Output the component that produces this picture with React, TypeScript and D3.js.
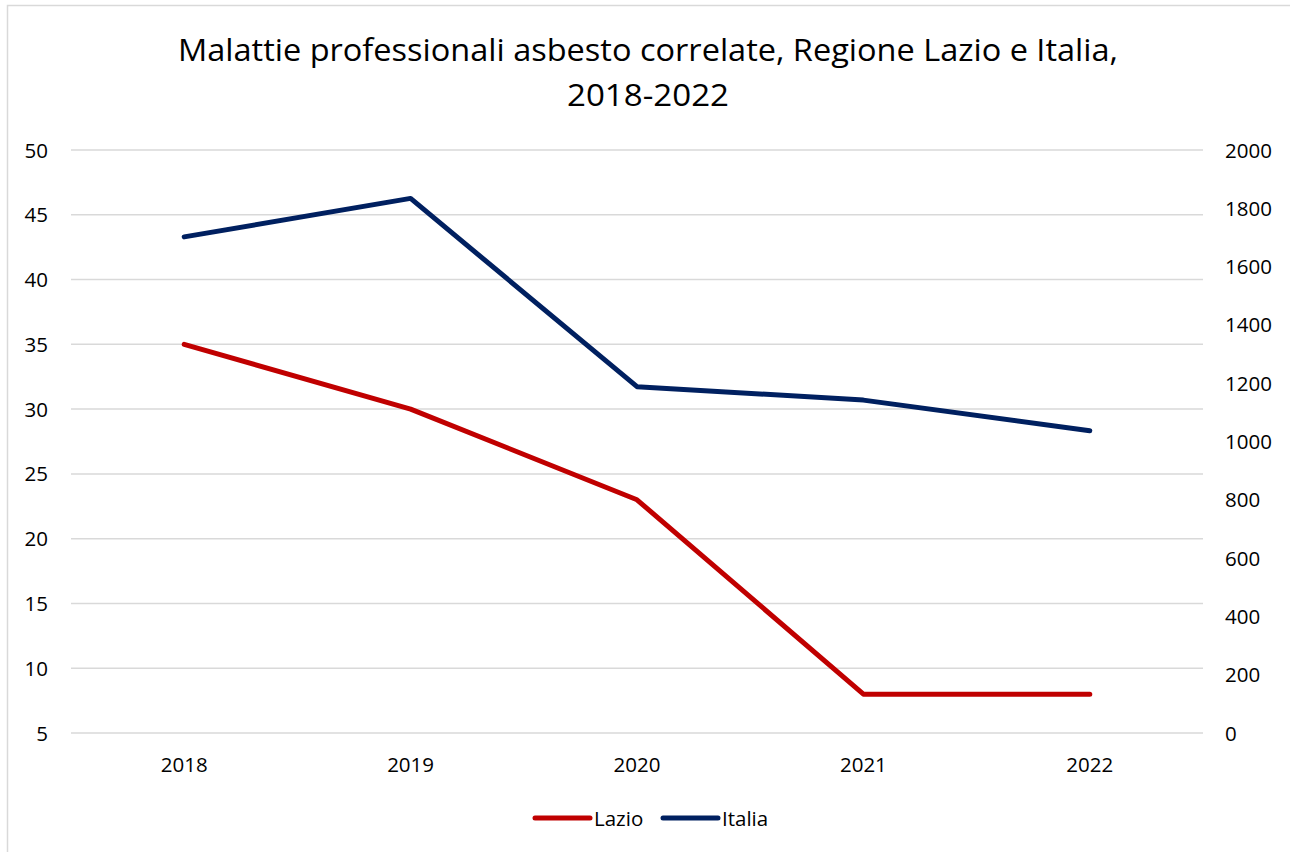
import React from "react";
import * as d3 from "d3";

const title1 = "Malattie professionali asbesto correlate, Regione Lazio e Italia,";
const title2 = "2018-2022";
const years = ["2018", "2019", "2020", "2021", "2022"];
const lazio = [35, 30, 23, 8, 8];
const italia = [1702, 1834, 1188, 1142, 1037];
const leftTicks = [5, 10, 15, 20, 25, 30, 35, 40, 45, 50];
const rightTicks = [0, 200, 400, 600, 800, 1000, 1200, 1400, 1600, 1800, 2000];

const W = 1290;
const H = 852;
const FONT = "'Open Sans', 'Noto Sans', sans-serif";

export default function App() {
  const x = d3.scaleBand<string>().domain(years).range([71, 1203]);
  const cx = (d: string) => (x(d) as number) + x.bandwidth() / 2;
  const yL = d3.scaleLinear().domain([5, 50]).range([733, 150]);
  const yR = d3.scaleLinear().domain([0, 2000]).range([733, 150]);

  const lineL = d3
    .line<number>()
    .x((_, i) => cx(years[i]))
    .y((d) => yL(d));
  const lineR = d3
    .line<number>()
    .x((_, i) => cx(years[i]))
    .y((d) => yR(d));

  const legend = [
    { name: "Lazio", color: "#C00000", x0: 535, x1: 590, tx: 594 },
    { name: "Italia", color: "#002060", x0: 663, x1: 718, tx: 722 },
  ];

  return (
    <svg
      width={W}
      height={H}
      style={{ position: "absolute", left: 0, top: 0, background: "#fff" }}
      fontFamily={FONT}
    >
      <rect x={0} y={0} width={W} height={H} fill="#fff" />
      {/* chart border */}
      <path d={`M7.5,${H + 2} V5.5 H${W + 2}`} fill="none" stroke="#D9D9D9" strokeWidth={1.5} />

      {/* title */}
      <text
        x={648}
        y={61}
        textAnchor="middle"
        fontSize={31}
        fill="#000"
        textLength={940}
        lengthAdjust="spacingAndGlyphs"
      >
        {title1}
      </text>
      <text
        x={648}
        y={106}
        textAnchor="middle"
        fontSize={31}
        fill="#000"
        textLength={162}
        lengthAdjust="spacingAndGlyphs"
      >
        {title2}
      </text>

      {/* gridlines */}
      {leftTicks.map((t) => (
        <line
          key={"g" + t}
          x1={71}
          x2={1203}
          y1={yL(t)}
          y2={yL(t)}
          stroke="#D9D9D9"
          strokeWidth={1.5}
        />
      ))}

      {/* left axis labels */}
      {leftTicks.map((t) => (
        <text
          key={"l" + t}
          x={48}
          y={yL(t) + 7.5}
          textAnchor="end"
          fontSize={20.5}
          fill="#000"
        >
          {t}
        </text>
      ))}

      {/* right axis labels */}
      {rightTicks.map((t) => (
        <text
          key={"r" + t}
          x={1225}
          y={yR(t) + 7.5}
          textAnchor="start"
          fontSize={20.5}
          fill="#000"
        >
          {t}
        </text>
      ))}

      {/* x labels */}
      {years.map((yv) => (
        <text key={"x" + yv} x={cx(yv)} y={772} textAnchor="middle" fontSize={20.5} fill="#000">
          {yv}
        </text>
      ))}

      {/* lines */}
      <path
        d={lineL(lazio) || ""}
        fill="none"
        stroke="#C00000"
        strokeWidth={5}
        strokeLinecap="round"
        strokeLinejoin="round"
      />
      <path
        d={lineR(italia) || ""}
        fill="none"
        stroke="#002060"
        strokeWidth={5}
        strokeLinecap="round"
        strokeLinejoin="round"
      />

      {/* legend */}
      {legend.map((l) => (
        <g key={l.name}>
          <line
            x1={l.x0}
            x2={l.x1}
            y1={818}
            y2={818}
            stroke={l.color}
            strokeWidth={5}
            strokeLinecap="round"
          />
          <text x={l.tx} y={826} fontSize={20.5} fill="#000">
            {l.name}
          </text>
        </g>
      ))}
    </svg>
  );
}
